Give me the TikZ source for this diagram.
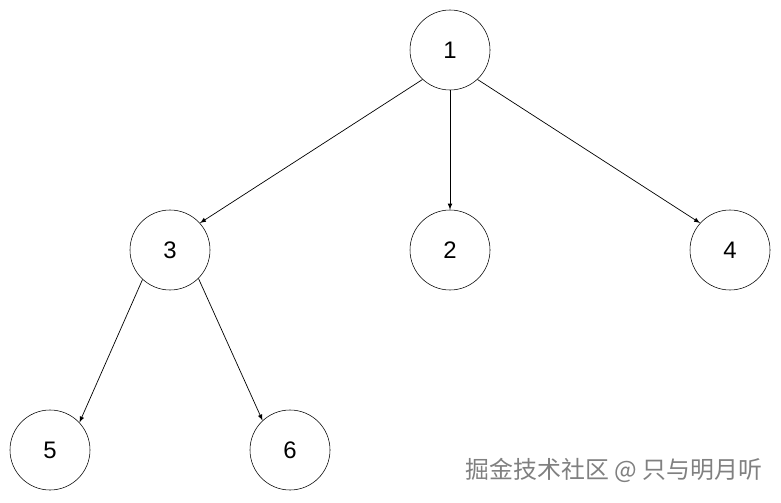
\documentclass[tikz,border=0pt]{standalone}
\usepackage{fontspec}
\setmainfont{Liberation Sans}
\newfontfamily\cjk{Noto Sans CJK SC}
\usepackage{tikz}
\usetikzlibrary{arrows}

\tikzset{vertex/.style={circle, draw, minimum size=2cm, inner sep=0pt, font=\fontsize{17}{19}\selectfont},
  edge/.style={->, >=latex, line width=0.5pt}}

\begin{document}
\begin{tikzpicture}
    \useasboundingbox (0,0) rectangle (19.525,12.55);
    \node[vertex] (one) at (11.25, 11.3) {1};
    \node[vertex] (three) at (4.25, 6.3) {3};
    \node[vertex] (two) at (11.25, 6.3) {2};
    \node[vertex] (four) at (18.25, 6.3) {4};
    \node[vertex] (five) at (1.25, 1.3) {5};
    \node[vertex] (six) at (7.25, 1.3) {6};
    \draw[edge] (one.227) -- (three.42);
    \draw[edge] (one) -- (two);
    \draw[edge] (one.313) -- (four.138);
    \draw[edge] (three.227) -- (five.43);
    \draw[edge] (three.315) -- (six.133);
    % watermark
    \node[text=gray, font=\cjk\fontsize{17}{19}\selectfont] (mark) at (15.35, 0.8) {掘金技术社区 @ 只与明月听};
  \end{tikzpicture}
\end{document}
